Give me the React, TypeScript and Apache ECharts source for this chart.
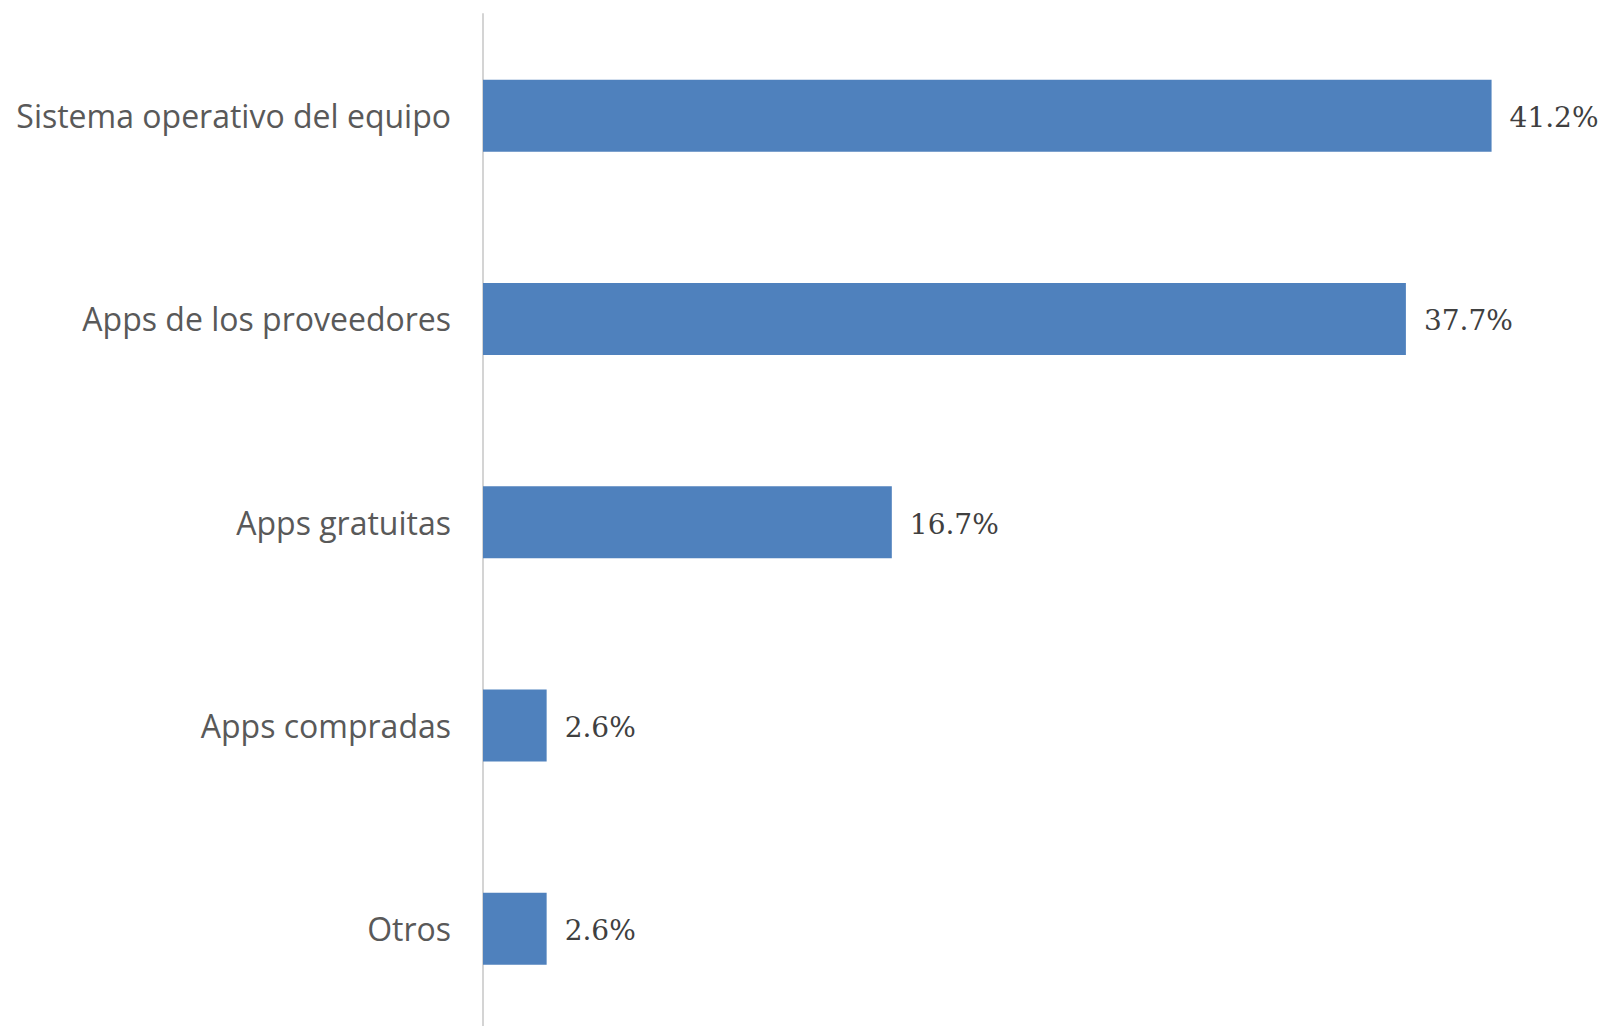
import React, { useEffect, useRef } from "react";
import * as echarts from "echarts";

const categories = [
  "Sistema operativo del equipo",
  "Apps de los proveedores",
  "Apps gratuitas",
  "Apps compradas",
  "Otros",
];
const values = [41.2, 37.7, 16.7, 2.6, 2.6];

export default function App() {
  const ref = useRef<HTMLDivElement>(null);
  useEffect(() => {
    const chart = echarts.init(ref.current!, null, { renderer: "svg" });
    chart.setOption({
      animation: false,
      grid: { left: 483, top: 14, width: 1101.6, height: 1016.5, containLabel: false },
      xAxis: {
        type: "value",
        min: 0,
        max: 45,
        show: false,
      },
      yAxis: {
        type: "category",
        data: categories,
        inverse: true,
        axisLine: { show: true, lineStyle: { color: "#d4d4d4", width: 2 } },
        axisTick: { show: false },
        axisLabel: {
          margin: 32,
          fontFamily: "Open Sans",
          fontSize: 32,
          color: "#595959",
          padding: [0, 0, 4, 0],
        },
      },
      series: [
        {
          type: "bar",
          data: values,
          barWidth: 72,
          itemStyle: { color: "#4f81bd" },
          label: {
            show: true,
            position: "right",
            distance: 18,
            offset: [0, 2],
            formatter: (p: any) => p.value.toFixed(1) + "%",
            fontFamily: "DejaVu Serif",
            fontSize: 28,
            color: "#404040",
          },
        },
      ],
    });
    return () => chart.dispose();
  }, []);
  return (
    <div
      ref={ref}
      style={{ position: "fixed", left: 0, top: 0, width: 1606, height: 1040, background: "#fff" }}
    />
  );
}
